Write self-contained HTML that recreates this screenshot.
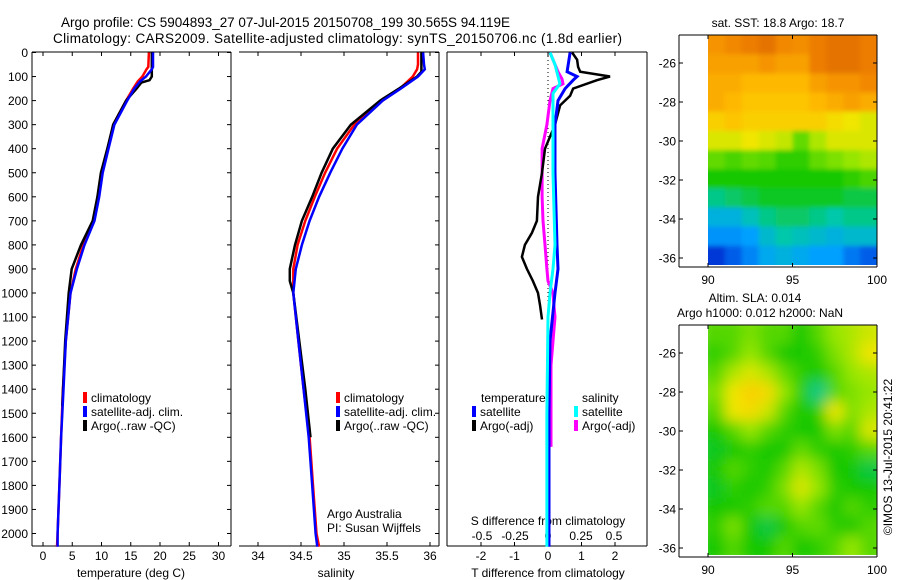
<!DOCTYPE html>
<html><head><meta charset="utf-8"><style>
html,body{margin:0;padding:0;background:#fff;}
svg{display:block;font-family:"Liberation Sans",sans-serif;}
text{font-size:12px;fill:#000;}
</style></head><body>
<svg id="c" width="900" height="580" viewBox="0 0 900 580">
<text x="61" y="27" textLength="449" style="font-size:13.5px">Argo profile: CS 5904893_27 07-Jul-2015 20150708_199 30.565S 94.119E</text>
<text x="53" y="43" textLength="569" style="font-size:13.5px">Climatology: CARS2009. Satellite-adjusted climatology: synTS_20150706.nc (1.8d earlier)</text>
<g id="g"></g>
</svg>
<script>
// ---------- data ----------
const depthTicks=[0,100,200,300,400,500,600,700,800,900,1000,1100,1200,1300,1400,1500,1600,1700,1800,1900,2000];
const tempTicks=[0,5,10,15,20,25,30];
const salTicks=[34,34.5,35,35.5,36];
const salTickLabels=["34","34.5","35","35.5","36"];
const tdTicks=[-2,-1,0,1,2];
const sdTicks=[-0.5,-0.25,0,0.25,0.5];
const sdTickLabels=["-0.5","-0.25","0","0.25","0.5"];

const tDepth=[0,60,70,100,120,150,200,300,400,500,600,700,800,900,1000,1200,1400,1600,1800,2000,2055];
const tClim=[18.1,18.0,17.7,17.0,16.2,15.4,14.2,12.0,11.1,10.0,9.4,8.6,6.9,5.6,4.7,3.9,3.4,3.1,2.8,2.5,2.4];
const tSat=[18.8,18.8,18.6,17.6,16.6,15.6,14.4,12.2,11.2,10.2,9.6,8.8,7.1,5.8,4.7,3.9,3.5,3.1,2.8,2.5,2.5];
const tArgoDepth=[0,100,115,125,150,200,300,400,500,600,700,800,900,1000,1200,1470];
const tArgo=[18.6,18.6,18.2,16.8,16.0,14.2,12.0,11.0,9.9,9.3,8.5,6.5,4.9,4.4,3.8,3.3];

const sDepth=[0,50,70,100,150,200,300,400,500,600,700,800,900,1000,1200,1400,1600,1800,2000,2055];
const sClim=[35.86,35.86,35.85,35.8,35.65,35.45,35.12,34.92,34.78,34.66,34.55,34.46,34.41,34.41,34.47,34.53,34.6,34.64,34.68,34.71];
const sSat=[35.92,35.93,35.94,35.86,35.66,35.45,35.15,34.98,34.84,34.71,34.6,34.51,34.44,34.41,34.47,34.53,34.59,34.63,34.67,34.69];
const sArgoDepth=[0,80,100,150,200,300,400,500,600,700,800,900,950,1000,1200,1400,1600];
const sArgo=[35.9,35.9,35.85,35.64,35.42,35.08,34.87,34.74,34.63,34.51,34.43,34.37,34.37,34.41,34.48,34.55,34.61];

const dtSatDepth=[0,80,100,115,150,200,300,500,800,900,1000,1200,1500,2055];
const dtSat=[0.66,0.57,0.87,0.75,0.51,0.3,0.21,0.21,0.27,0.3,0.21,0.06,0.03,0.03];
const dtArgoDepth=[0,30,60,80,100,115,150,180,220,300,350,400,500,600,700,750,800,850,900,950,1000,1050,1110];
const dtArgo=[0.72,0.87,0.9,0.96,1.85,1.46,0.75,0.66,0.36,0.21,0.06,-0.09,-0.18,-0.3,-0.33,-0.48,-0.69,-0.78,-0.63,-0.45,-0.3,-0.24,-0.18];
const dsSatDepth=[0,50,130,170,250,500,800,900,1000,1100,1500,2055];
const dsSat=[0.015,0.053,0.09,0.038,0.038,0.038,0.053,0.038,0.015,0,-0.008,-0.008];
const dsArgoDepth=[0,50,80,110,130,150,200,300,400,500,600,700,800,900,950,1000,1050,1100,1300,1640];
const dsArgo=[0.015,0.053,0.076,0.106,0.114,0.038,0.015,-0.008,-0.045,-0.045,-0.045,-0.038,-0.023,-0.008,0,0.038,0.045,0.053,0.023,0.023];

const latTicks=[-26,-28,-30,-32,-34,-36];
const lonTicks=[90,95,100];
const sstGrid=[
[0.82,0.84,0.86,0.88,0.84,0.83,0.86,0.88,0.88,0.86],
[0.80,0.80,0.80,0.82,0.80,0.80,0.86,0.88,0.88,0.86],
[0.78,0.78,0.76,0.76,0.76,0.76,0.80,0.82,0.82,0.84],
[0.78,0.76,0.74,0.74,0.74,0.74,0.76,0.78,0.80,0.78],
[0.72,0.74,0.72,0.72,0.72,0.72,0.72,0.70,0.68,0.66],
[0.66,0.66,0.68,0.66,0.64,0.56,0.62,0.66,0.66,0.66],
[0.56,0.54,0.56,0.55,0.52,0.52,0.56,0.58,0.60,0.62],
[0.50,0.50,0.50,0.50,0.50,0.50,0.50,0.50,0.52,0.54],
[0.42,0.44,0.46,0.48,0.48,0.48,0.48,0.48,0.46,0.46],
[0.34,0.34,0.38,0.42,0.44,0.44,0.42,0.40,0.42,0.42],
[0.28,0.28,0.30,0.36,0.40,0.38,0.36,0.34,0.36,0.36],
[0.14,0.20,0.26,0.32,0.34,0.32,0.30,0.30,0.24,0.20]];
const slaGrid=[
[.55,.55,.58,.55,.55,.5,.55,.6,.62,.65],
[.52,.55,.6,.55,.5,.5,.52,.58,.62,.68],
[.55,.62,.66,.62,.56,.52,.5,.55,.6,.62],
[.58,.68,.72,.7,.6,.52,.42,.55,.58,.6],
[.55,.68,.7,.65,.55,.5,.52,.68,.58,.62],
[.5,.55,.6,.55,.52,.5,.5,.58,.55,.66],
[.48,.5,.52,.5,.5,.56,.52,.5,.52,.55],
[.5,.55,.52,.5,.55,.62,.58,.5,.5,.46],
[.48,.52,.5,.52,.58,.66,.6,.52,.5,.5],
[.5,.5,.52,.55,.55,.6,.55,.5,.55,.52],
[.52,.58,.5,.46,.5,.55,.56,.52,.5,.55],
[.5,.55,.5,.5,.55,.5,.52,.55,.6,.55]];

// ---------- helpers ----------
const NS="http://www.w3.org/2000/svg";
const G=document.getElementById('g');
function el(tag,attrs,parent){const e=document.createElementNS(NS,tag);for(const k in attrs)e.setAttribute(k,attrs[k]);(parent||G).appendChild(e);return e;}
function txt(x,y,s,anchor,size){const t=el('text',{x:x,y:y,'text-anchor':anchor||'start'});if(size)t.style.fontSize=size+'px';t.textContent=s;return t;}
const yD=d=>52.5+d*0.2405;
const xT=v=>43+v*5.85;
const xS=v=>258+(v-34)*86;
const xDT=v=>548+v*33.5;
const xDS=v=>548+v*132;

function line(xs,ds,fx,color,w,name){
  const p=xs.map((v,i)=>fx(v).toFixed(1)+','+yD(ds[i]).toFixed(1)).join(' ');
  const e=el('polyline',{points:p,fill:'none',stroke:color,'stroke-width':w,'stroke-linejoin':'miter'});
  
  
}
function frame(x0,x1,y0,y1,noLeft,name){
  const g=el('g',{});
  
  
  el('line',{x1:x0,y1:y0,x2:x1,y2:y0,stroke:'#000'},g);
  el('line',{x1:x0,y1:y1,x2:x1,y2:y1,stroke:'#000'},g);
  el('line',{x1:x1,y1:y0,x2:x1,y2:y1,stroke:'#000'},g);
  if(!noLeft)el('line',{x1:x0,y1:y0,x2:x0,y2:y1,stroke:'#000'},g);
  return g;
}
function xticks(ticks,fx,y0,y1,labels,ly,name){
  ticks.forEach((t,i)=>{const x=fx(t);
    el('line',{x1:x,y1:y0,x2:x,y2:y0+4,stroke:'#000'});
    el('line',{x1:x,y1:y1,x2:x,y2:y1-4,stroke:'#000'});
    if(labels){const e=txt(x,ly,labels[i],'middle');
      
      }
  });
}
function legendEntry(x,y,color,label){
  const r=el('rect',{x:x,y:y-10,width:4,height:11,fill:color});
  
  
  const t=txt(x+8,y,label);
  
  
}

// ---------- panel 1: temperature ----------
frame(32,231,52,546,false,'temperature-panel-frame');
depthTicks.forEach(d=>{const y=yD(d);
  el('line',{x1:32,y1:y,x2:36,y2:y,stroke:'#000'});
  el('line',{x1:231,y1:y,x2:227,y2:y,stroke:'#000'});
  const t=txt(28,y+4.5,String(d),'end');
  
  
});
xticks(tempTicks,xT,52,546,tempTicks.map(String),560,'temperature-tick-label');
let t1=txt(131,577,'temperature (deg C)','middle');


line(tClim,tDepth,xT,'#f00',2.5,'temperature-climatology-line');
line(tArgo,tArgoDepth,xT,'#000',2.5,'temperature-argo-line');
line(tSat,tDepth,xT,'#00f',2.5,'temperature-satellite-line');
legendEntry(83,402,'#f00','climatology');
legendEntry(83,416,'#00f','satellite-adj. clim.');
legendEntry(83,430,'#000','Argo(..raw -QC)');

// ---------- panel 2: salinity ----------
frame(239,439,52,546,true,'salinity-panel-frame');
depthTicks.forEach(d=>{const y=yD(d);el('line',{x1:439,y1:y,x2:435,y2:y,stroke:'#000'});});
xticks(salTicks,xS,52,546,salTickLabels,560,'salinity-tick-label');
let t2=txt(336,577,'salinity','middle');


line(sClim,sDepth,xS,'#f00',2.5,'salinity-climatology-line');
line(sArgo,sArgoDepth,xS,'#000',2.5,'salinity-argo-line');
line(sSat,sDepth,xS,'#00f',2.5,'salinity-satellite-line');
legendEntry(336,402,'#f00','climatology');
legendEntry(336,416,'#00f','satellite-adj. clim.');
legendEntry(336,430,'#000','Argo(..raw -QC)');
let a1=txt(327,518,'Argo Australia');
let a2=txt(327,532,'PI: Susan Wijffels');

// ---------- panel 3: differences ----------
frame(447,647,52,546,false,'difference-panel-frame');
xticks(tdTicks,xDT,52,546,tdTicks.map(String),560,'t-difference-tick-label');
sdTicks.forEach((v,i)=>{const e=txt(xDS(v),540,sdTickLabels[i],'middle');
  
  });
let t3=txt(548,525,'S difference from climatology','middle');

let t4=txt(548,577,'T difference from climatology','middle');

let zl=el('line',{x1:548,y1:52,x2:548,y2:546,stroke:'#000','stroke-dasharray':'1,3'});

line(dsArgo,dsArgoDepth,xDS,'#f0f',3,'salinity-argo-difference-line');
line(dtArgo,dtArgoDepth,xDT,'#000',2.5,'temperature-argo-difference-line');
line(dtSat,dtSatDepth,xDT,'#00f',3,'temperature-satellite-difference-line');
line(dsSat,dsSatDepth,xDS,'#0ff',3,'salinity-satellite-difference-line');
let lt=txt(481,402,'temperature');
let ls=txt(582,402,'salinity');
legendEntry(472,416,'#00f','satellite');
legendEntry(472,430,'#000','Argo(-adj)');
legendEntry(574,416,'#0ff','satellite');
legendEntry(574,430,'#f0f','Argo(-adj)');

// ---------- maps ----------
const stops=[[0,0,0,140],[0.15,0,60,220],[0.3,0,160,255],[0.4,0,200,170],[0.5,20,200,0],[0.6,150,230,0],[0.68,240,230,0],[0.75,255,190,0],[0.85,240,130,0],[0.95,200,80,0],[1,180,60,0]];
function cmap(v){for(let i=1;i<stops.length;i++){if(v<=stops[i][0]){const a=stops[i-1],b=stops[i],f=(v-a[0])/(b[0]-a[0]);
  return 'rgb('+[1,2,3].map(k=>Math.round(a[k]+(b[k]-a[k])*f)).join(',')+')';}}return 'rgb(180,60,0)';}
const defs=el('defs',{});
const flt=el('filter',{id:'blur',x:'-10%',y:'-10%',width:'120%',height:'120%'},defs);
el('feGaussianBlur',{stdDeviation:'7'},flt);
const flt2=el('filter',{id:'blur2',x:'-10%',y:'-10%',width:'120%',height:'120%'},defs);
el('feGaussianBlur',{stdDeviation:'2.5'},flt2);

function map(grid,top,name,filt){
  const x0=708,x1=877,y0=top,y1=top+230;
  const lonX=v=>708+(v-90)*16.9;
  const latY=v=>top+28+(-26-v)*19.5;
  const cp=el('clipPath',{id:'cp'+name},defs);
  el('rect',{x:x0,y:y0,width:x1-x0,height:y1-y0},cp);
  const outer=el('g',{'clip-path':'url(#cp'+name+')'});
  
  
  const g=el('g',{filter:'url(#'+filt+')'},outer);
  const nr=grid.length,nc=grid[0].length,cw=(x1-x0)/nc,ch=(y1-y0)/nr;
  grid.forEach((row,r)=>row.forEach((v,c)=>{
    const e=el('rect',{x:x0+c*cw-(c==0?10:0),y:y0+r*ch-(r==0?10:0),width:cw+1+(c==0||c==nc-1?10:0),height:ch+1+(r==0||r==nr-1?10:0),fill:cmap(v)},g);
    
    
  }));
  frame(679,877,y0,y1+2,false,name+'-frame');
  latTicks.forEach(l=>{const y=latY(l);
    el('line',{x1:679,y1:y,x2:683,y2:y,stroke:'#000'});
    el('line',{x1:877,y1:y,x2:873,y2:y,stroke:'#000'});
    const t=txt(676,y+4.5,String(l),'end');
    
    });
  lonTicks.forEach(l=>{const x=lonX(l);
    el('line',{x1:x,y1:y0,x2:x,y2:y0+4,stroke:'#000'});
    el('line',{x1:x,y1:y1+2,x2:x,y2:y1-2,stroke:'#000'});
    const t=txt(x,y1+19,String(l),'middle');
    
    });
}
map(sstGrid,35,'sst-map','blur2');
map(slaGrid,325,'sla-map','blur');
let m1=txt(778,27,'sat. SST: 18.8 Argo: 18.7','middle');
let m2=txt(755,302,'Altim. SLA: 0.014','middle');
let m3=txt(760,317,'Argo h1000: 0.012 h2000: NaN','middle');
let cr=txt(0,0,'©IMOS 13-Jul-2015 20:41:22','middle');
cr.setAttribute('transform','translate(892,457) rotate(-90)');

</script>
</body></html>
